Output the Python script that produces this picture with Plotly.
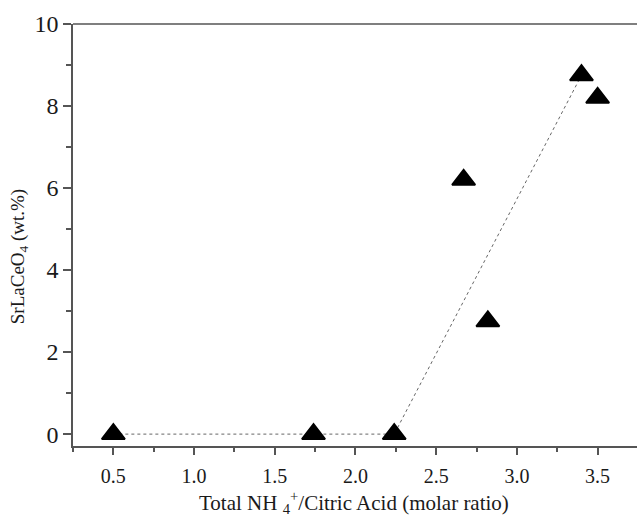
import plotly.graph_objects as go

ratio = [0.5, 1.74, 2.24, 2.67, 2.82, 3.40, 3.50]
wt_pct = [0.0, 0.0, 0.0, 6.2, 2.75, 8.75, 8.2]

fit_x = [0.5, 2.24, 3.40]
fit_y = [0.0, 0.0, 8.75]

x_title = "Total NH <sub>4</sub><sup>+</sup>/Citric Acid (molar ratio)"
y_title = "SrLaCeO<sub>4</sub> (wt.%)"

FONT = "Liberation Serif"
AX = "#555555"
TXT = "#1a1a1a"

fig = go.Figure()
fig.add_trace(go.Scatter(x=fit_x, y=fit_y, mode="lines",
                         line=dict(color="#666666", width=1, dash="dot"),
                         hoverinfo="skip", showlegend=False))
fig.add_trace(go.Scatter(x=ratio, y=wt_pct, mode="markers",
                         marker=dict(symbol="triangle-up", size=20, color="black",
                                     line=dict(color="black", width=2)),
                         showlegend=False))

fig.update_layout(
    width=637, height=516,
    margin=dict(l=73, r=0, t=24, b=70),
    paper_bgcolor="white", plot_bgcolor="white",
    font=dict(family=FONT, color=TXT, size=24),
    xaxis=dict(range=[0.25, 3.744], tickmode="linear", tick0=0.5, dtick=0.5,
               tickformat=".1f", ticks="outside", ticklen=7, tickwidth=1.5,
               tickcolor=AX, showline=True, linecolor=AX, linewidth=1.5,
               mirror=False, showgrid=False, zeroline=False,
               ticklabelstandoff=4,
               tickfont=dict(size=20, family=FONT, color=TXT),
               minor=dict(dtick=0.25, tick0=0.25, ticks="outside", ticklen=4,
                          tickwidth=1.5, tickcolor=AX, showgrid=False)),
    yaxis=dict(range=[-0.29, 10], tickmode="linear", tick0=0, dtick=2,
               tickformat="d",
               ticks="outside", ticklen=8, tickwidth=1.5, tickcolor=AX,
               showline=True, linecolor=AX, linewidth=1.5, showgrid=False,
               zeroline=False, mirror=False,
               tickfont=dict(size=24, family=FONT, color=TXT),
               minor=dict(dtick=1, tick0=0, ticks="outside", ticklen=5,
                          tickwidth=1.5, tickcolor=AX, showgrid=False)),
    shapes=[dict(type="line", xref="paper", yref="paper", x0=0, x1=1, y0=1, y1=1,
                 line=dict(color=AX, width=1.5), layer="above")],
    annotations=[
        dict(text=x_title, xref="paper", yref="paper", x=0.498, y=-0.135,
             showarrow=False, xanchor="center", yanchor="middle",
             font=dict(size=21, family=FONT, color=TXT)),
        dict(text=y_title, xref="paper", yref="paper", x=-0.0957, y=0.4474,
             showarrow=False, xanchor="center", yanchor="middle", textangle=-90,
             font=dict(size=19, family=FONT, color=TXT)),
    ],
)

fig.write_html("out.html")
